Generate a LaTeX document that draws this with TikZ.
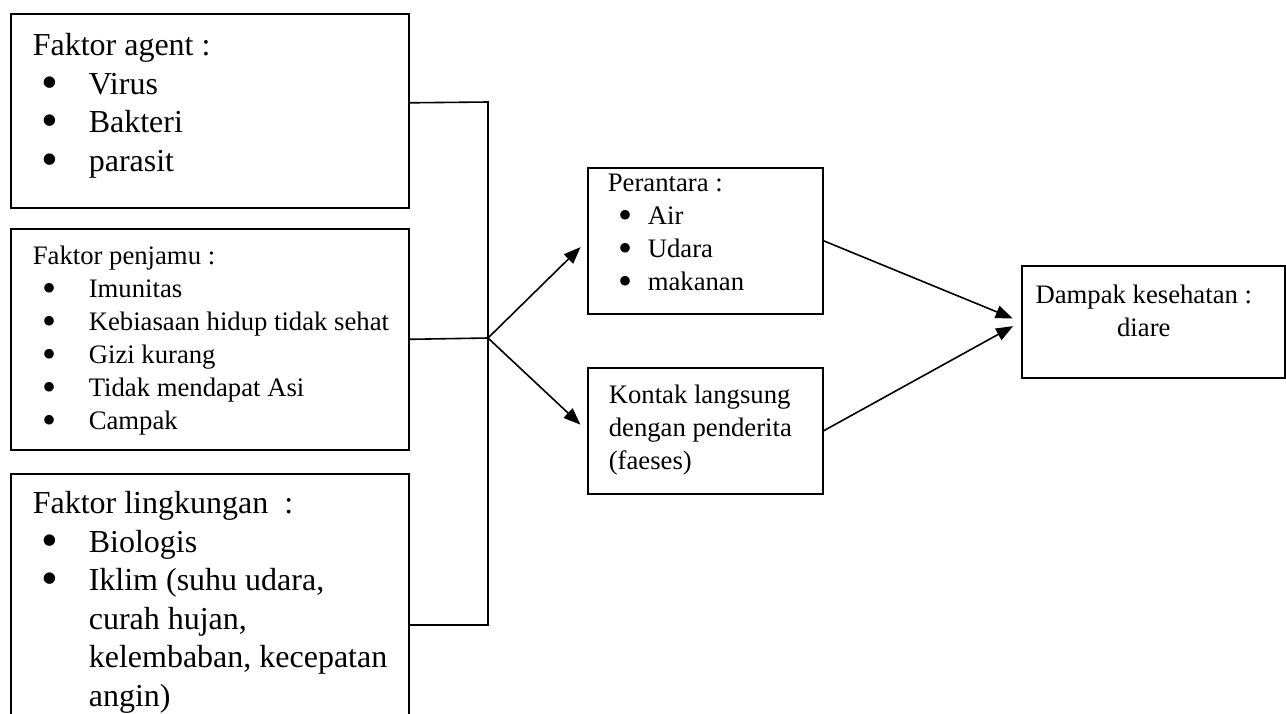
\documentclass[tikz,border=0pt]{standalone}
\usepackage{fontspec}
\setmainfont{Liberation Serif}
\usetikzlibrary{arrows.meta}

% Schriftgroessen (1pt = 1px)
\newcommand{\besar}{\fontsize{32}{38.5}\selectfont}
\newcommand{\kecil}{\fontsize{26.7}{33}\selectfont}
% Kopfzeile und Aufzaehlungspunkt
\newcommand{\judul}[2]{\noindent\hspace*{#1}#2\strut\par}
\newcommand{\bul}{\raisebox{-0.12em}{\scalebox{1.5}{\textbullet}}}
\newcommand{\butir}[3]{\noindent\hspace*{#1}\makebox[#2][l]{\bul}#3\strut\par}

\begin{document}
\begin{tikzpicture}[x=1pt,y=-1pt,
	kotak/.style={draw,line width=1.6pt,inner sep=0pt,anchor=north west},
	garis/.style={line width=1.6pt},
	panah/.style={garis,-{Triangle[length=17pt,width=13pt]},shorten >=9pt}]
	
	\useasboundingbox (0,0) rectangle (1286,713);
	
	% Faktor agent
	\node[kotak] (agent) at (10,13) {\parbox[t][194pt][t]{398pt}{\besar\vspace*{15pt}%
		\judul{22pt}{Faktor agent :}
		\butir{31pt}{47pt}{Virus}
		\butir{31pt}{47pt}{Bakteri}
		\butir{31pt}{47pt}{parasit}}};
	
	% Faktor penjamu
	\node[kotak] (penjamu) at (10,228) {\parbox[t][221pt][t]{398pt}{\kecil\vspace*{13pt}%
		\judul{22pt}{Faktor penjamu :}
		\butir{32pt}{46pt}{Imunitas}
		\butir{32pt}{46pt}{Kebiasaan hidup tidak sehat}
		\butir{32pt}{46pt}{Gizi kurang}
		\butir{32pt}{46pt}{Tidak mendapat Asi}
		\butir{32pt}{46pt}{Campak}}};
	
	% Faktor lingkungan (unten abgeschnitten)
	\node[kotak] (lingkungan) at (10,473) {\parbox[t][270pt][t]{398pt}{\besar\vspace*{13pt}%
		\judul{22pt}{Faktor lingkungan\ \ :}
		\butir{31pt}{47pt}{Biologis}
		\butir{31pt}{47pt}{\parbox[t]{310pt}{\strut Iklim (suhu udara,\\ curah hujan,\\ kelembaban, kecepatan\\ angin)}}}};
	
	% Perantara
	\node[kotak] (perantara) at (587,167) {\parbox[t][146pt][t]{235pt}{\kecil\vspace*{1pt}%
		\judul{20pt}{Perantara :}
		\butir{31pt}{29pt}{Air}
		\butir{31pt}{29pt}{Udara}
		\butir{31pt}{29pt}{makanan}}};
	
	% Kontak langsung
	\node[kotak] (kontak) at (587,367) {\parbox[t][126pt][t]{235pt}{\kecil\vspace*{13pt}%
		\judul{21pt}{Kontak langsung}
		\judul{21pt}{dengan penderita}
		\judul{21pt}{(faeses)}}};
	
	% Dampak
	\node[kotak] (dampak) at (1021,265) {\parbox[t][112pt][t]{263pt}{\kecil\vspace*{15pt}%
		\noindent\makebox[244pt]{Dampak kesehatan :}\strut\par
		\noindent\makebox[244pt]{diare}\strut\par}};
	
	% Klammer
	\coordinate (atas) at (488,102);
	\coordinate (cabang) at (488,338);
	\coordinate (bawah) at (488,625);
	\draw[garis] ([yshift=8pt]agent.east) -- (atas) -- (bawah) -- ([yshift=-152pt]lingkungan.north east);
	\draw[garis] (penjamu.east) -- (cabang);
	
	% Pfeile
	\draw[panah] (cabang) -- (perantara.west);
	\draw[panah] (cabang) -- (kontak.west);
	\draw[panah] (perantara.east) -- (dampak.west);
	\draw[panah] (kontak.east) -- (dampak.west);
\end{tikzpicture}
\end{document}
